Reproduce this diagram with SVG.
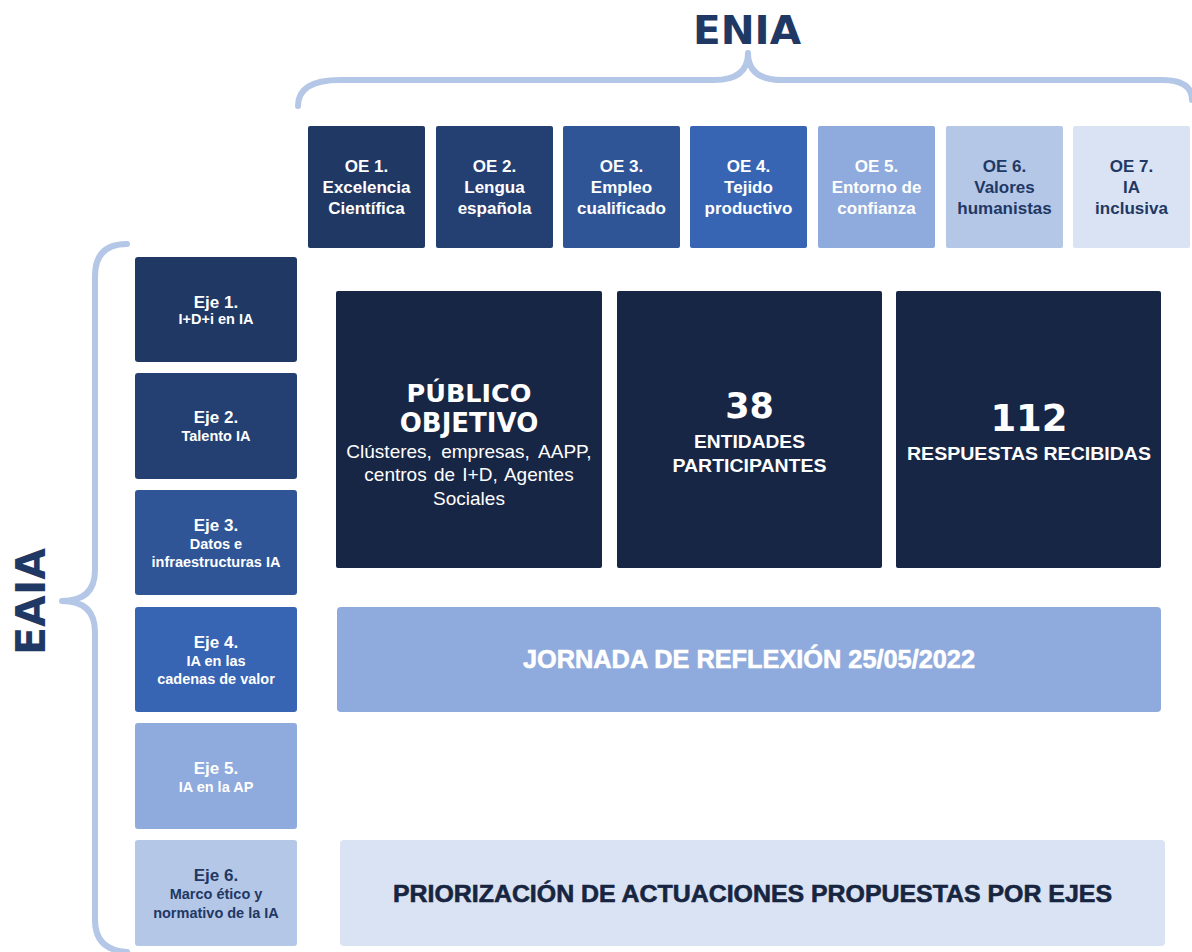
<svg xmlns="http://www.w3.org/2000/svg" width="1192" height="952" viewBox="0 0 1192 952">
<style>
.t{font-family:"Liberation Sans",Arial,sans-serif;font-weight:bold;text-anchor:middle}
.r{font-family:"Liberation Sans",Arial,sans-serif;text-anchor:middle}
.k{font-family:"DejaVu Sans",Verdana,sans-serif;font-weight:bold;text-anchor:middle;fill:#fff}
.h{font-family:"DejaVu Sans",Verdana,sans-serif;font-weight:bold;text-anchor:middle;fill:#1F3864}
.w{fill:#fff}
.d{fill:#1F3864}
.oe{font-size:17px}
.ej{font-size:17px}
.sb{font-size:14.5px}
.heavy{stroke-width:0.6;paint-order:stroke}
.brace{fill:none;stroke:#B4C7E7;stroke-width:6;stroke-linecap:round;stroke-linejoin:round}
</style>
<rect width="1192" height="952" fill="#fff"/>

<g id="connectors">
<path class="brace" d="M298,106 Q298,80 340,80 L714,80 Q748,80 748,53 Q748,80 782,80 L1162,80 Q1192,80 1192,100"/>
<path class="brace" d="M127,244 Q95,244 95,276 L95,570 Q95,601 62,601 Q95,601 95,632 L95,920 Q95,950 127,952"/>
</g>

<g id="title-enia"><text class="h" x="747" y="44" font-size="39" textLength="108" lengthAdjust="spacingAndGlyphs">ENIA</text></g>
<g id="title-eaia"><text class="h" transform="translate(45,601.5) rotate(-90)" font-size="41" textLength="107" lengthAdjust="spacingAndGlyphs">EAIA</text></g>

<g id="oe1"><rect x="308" y="126" width="117" height="122" rx="2" fill="#203864"/>
<text class="t w oe" x="366.5" y="172">OE 1.</text><text class="t w oe" x="366.5" y="193">Excelencia</text><text class="t w oe" x="366.5" y="214">Científica</text></g>
<g id="oe2"><rect x="436" y="126" width="117" height="122" rx="2" fill="#243F72"/>
<text class="t w oe" x="494.5" y="172">OE 2.</text><text class="t w oe" x="494.5" y="193">Lengua</text><text class="t w oe" x="494.5" y="214">española</text></g>
<g id="oe3"><rect x="563" y="126" width="117" height="122" rx="2" fill="#2F5597"/>
<text class="t w oe" x="621.5" y="172">OE 3.</text><text class="t w oe" x="621.5" y="193">Empleo</text><text class="t w oe" x="621.5" y="214">cualificado</text></g>
<g id="oe4"><rect x="690" y="126" width="117" height="122" rx="2" fill="#3864B4"/>
<text class="t w oe" x="748.5" y="172">OE 4.</text><text class="t w oe" x="748.5" y="193">Tejido</text><text class="t w oe" x="748.5" y="214">productivo</text></g>
<g id="oe5"><rect x="818" y="126" width="117" height="122" rx="2" fill="#8FAADC"/>
<text class="t w oe" x="876.5" y="172">OE 5.</text><text class="t w oe" x="876.5" y="193">Entorno de</text><text class="t w oe" x="876.5" y="214">confianza</text></g>
<g id="oe6"><rect x="946" y="126" width="117" height="122" rx="2" fill="#B4C7E7"/>
<text class="t d oe" x="1004.5" y="172">OE 6.</text><text class="t d oe" x="1004.5" y="193">Valores</text><text class="t d oe" x="1004.5" y="214">humanistas</text></g>
<g id="oe7"><rect x="1073" y="126" width="117" height="122" rx="2" fill="#DAE3F3"/>
<text class="t d oe" x="1131.5" y="172">OE 7.</text><text class="t d oe" x="1131.5" y="193">IA</text><text class="t d oe" x="1131.5" y="214">inclusiva</text></g>

<g id="eje1"><rect x="135" y="257" width="162" height="105" rx="3" fill="#203864"/>
<text class="t w ej" x="216" y="308">Eje 1.</text><text class="t w sb" x="216" y="324">I+D+i en IA</text></g>
<g id="eje2"><rect x="135" y="373" width="162" height="106" rx="3" fill="#243F72"/>
<text class="t w ej" x="216" y="423">Eje 2.</text><text class="t w sb" x="216" y="441">Talento IA</text></g>
<g id="eje3"><rect x="135" y="490" width="162" height="105" rx="3" fill="#2F5597"/>
<text class="t w ej" x="216" y="531">Eje 3.</text><text class="t w sb" x="216" y="549">Datos e</text><text class="t w sb" x="216" y="567">infraestructuras IA</text></g>
<g id="eje4"><rect x="135" y="607" width="162" height="105" rx="3" fill="#3864B4"/>
<text class="t w ej" x="216" y="648">Eje 4.</text><text class="t w sb" x="216" y="666">IA en las</text><text class="t w sb" x="216" y="684">cadenas de valor</text></g>
<g id="eje5"><rect x="135" y="723" width="162" height="106" rx="3" fill="#8FAADC"/>
<text class="t w ej" x="216" y="774">Eje 5.</text><text class="t w sb" x="216" y="792">IA en la AP</text></g>
<g id="eje6"><rect x="135" y="840" width="162" height="106" rx="3" fill="#B4C7E7"/>
<text class="t d ej" x="216" y="881">Eje 6.</text><text class="t d sb" x="216" y="899">Marco ético y</text><text class="t d sb" x="216" y="918">normativo de la IA</text></g>

<g id="publico"><rect x="336" y="291" width="266" height="277" rx="2" fill="#182645"/>
<text class="k" x="469" y="402" font-size="25.5">PÚBLICO</text>
<text class="k" x="469" y="432" font-size="26">OBJETIVO</text>
<text class="r w" x="469" y="458" font-size="19" word-spacing="4">Clústeres, empresas, AAPP,</text>
<text class="r w" x="469" y="481" font-size="19" word-spacing="2">centros de I+D, Agentes</text>
<text class="r w" x="469" y="505" font-size="19">Sociales</text></g>

<g id="entidades"><rect x="617" y="291" width="265" height="277" rx="2" fill="#182645"/>
<text class="k" x="749.5" y="418" font-size="35">38</text>
<text class="t w" x="749.5" y="448" font-size="18" textLength="111" lengthAdjust="spacingAndGlyphs">ENTIDADES</text>
<text class="t w" x="749.5" y="472" font-size="18" textLength="154" lengthAdjust="spacingAndGlyphs">PARTICIPANTES</text></g>

<g id="respuestas"><rect x="896" y="291" width="265" height="277" rx="2" fill="#182645"/>
<text class="k" x="1029" y="431" font-size="37">112</text>
<text class="t w" x="1029" y="460" font-size="17.5" textLength="244" lengthAdjust="spacingAndGlyphs">RESPUESTAS RECIBIDAS</text></g>

<g id="jornada"><rect x="337" y="607" width="824" height="105" rx="4" fill="#8FAADC"/>
<text class="t w heavy" stroke="#fff" x="749" y="667.5" font-size="25" textLength="452" lengthAdjust="spacingAndGlyphs">JORNADA DE REFLEXIÓN 25/05/2022</text></g>

<g id="priorizacion"><rect x="340" y="840" width="825" height="106" rx="4" fill="#DAE3F3"/>
<text x="752.5" y="901.5" class="t heavy" fill="#172541" stroke="#172541" font-size="24" textLength="719" lengthAdjust="spacingAndGlyphs">PRIORIZACIÓN DE ACTUACIONES PROPUESTAS POR EJES</text></g>
</svg>
